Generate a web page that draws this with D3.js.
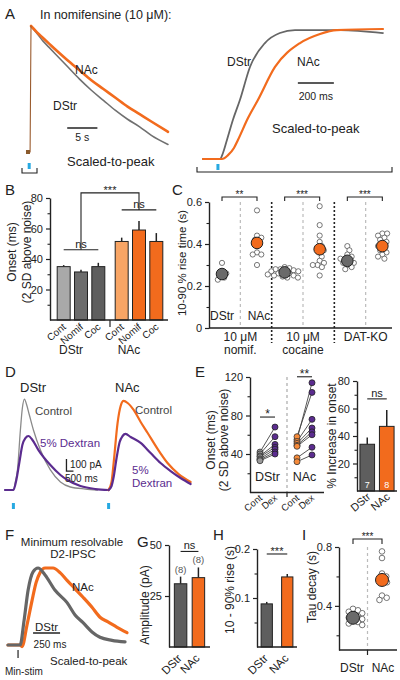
<!DOCTYPE html>
<html><head><meta charset="utf-8">
<script src="https://cdn.jsdelivr.net/npm/d3@7"></script>
<style>
body{margin:0;background:#fff;}
svg text{font-family:"Liberation Sans",Arial,Helvetica,sans-serif;fill:#222;}
</style></head><body>
<script>
// ---------------- DATA ----------------
// A (left): nomifensine, time (s) vs normalized current
const aLeftTime = [-0.6, -0.15, 0, 1, 2, 3, 4, 6, 8, 10, 12, 14, 16, 18, 20, 22.7];
const aLeftDStr = [0, 0, 1, 0.94, 0.88, 0.83, 0.78, 0.68, 0.58, 0.49, 0.41, 0.33, 0.26, 0.20, 0.13, 0.06];
const aLeftNAc  = [0, 0, 1, 0.95, 0.905, 0.86, 0.815, 0.73, 0.65, 0.57, 0.50, 0.43, 0.36, 0.30, 0.24, 0.16];
// A (right): rising phase, time (ms) vs normalized
const aRightTimeDStr = [-83, 11, 28, 50, 83, 122, 178, 261, 344, 428, 678, 917];
const aRightDStr     = [0, 0, 0.046, 0.146, 0.30, 0.454, 0.708, 0.892, 0.969, 0.992, 0.992, 0.969];
const aRightTimeNAc  = [-83, 22, 56, 89, 111, 167, 222, 317, 456, 567, 661, 917];
const aRightNAc      = [0, 0, 0.03, 0.085, 0.146, 0.315, 0.454, 0.708, 0.892, 0.962, 0.992, 1.0];
// B: onset (ms)
const bGroups = ["DStr", "NAc"];
const bConds = ["Cont", "Nomif", "Coc"];
const bDStr = [35, 31.5, 35], bDStrErr = [1, 1.5, 2.5];
const bNAc = [51.5, 59, 51.5], bNAcErr = [2.5, 6, 5.5];
// C: 10-90% rise time (s)
const cGroups = ["nomif", "cocaine", "DATKO"];
const cGroupLabels = [["10 \u03bcM", "nomif."], ["10 \u03bcM", "cocaine"], ["DAT-KO"]];
const cNomifDStr = [0.31, 0.27, 0.26, 0.25, 0.24, 0.23];
const cNomifNAc = [0.56, 0.44, 0.43, 0.42, 0.40, 0.36, 0.35, 0.35, 0.30];
const cCocDStr = [0.29, 0.285, 0.28, 0.28, 0.275, 0.27, 0.27, 0.265, 0.26, 0.26, 0.255, 0.25, 0.25, 0.245, 0.24, 0.24];
const cCocNAc = [0.58, 0.49, 0.44, 0.41, 0.39, 0.38, 0.37, 0.36, 0.34, 0.32, 0.31, 0.30, 0.30, 0.29, 0.25];
const cKoDStr = [0.39, 0.37, 0.35, 0.34, 0.33, 0.33, 0.32, 0.31, 0.31, 0.30, 0.29, 0.28];
const cKoNAc = [0.45, 0.45, 0.44, 0.43, 0.42, 0.41, 0.40, 0.39, 0.38, 0.37, 0.36, 0.35, 0.34, 0.33];
const cMeanDStr = [0.257, 0.265, 0.32];
const cMeanNAc = [0.405, 0.375, 0.39];
const cSig = ["**", "***", "***"];
// D: D2-IPSC (s, pA), control vs 5% dextran
const dSweepOffset = 6.8;
const dDStrCtrl = [[-0.6,0],[0,0],[0.14,67],[0.29,167],[0.5,500],[0.64,683],[0.79,758],[0.93,717],[1.14,625],[1.43,500],[1.93,333],[2.64,167],[3.36,67],[4.07,25],[5.14,8],[6.0,0]];
const dDStrDex  = [[-0.6,0],[0,0],[0.21,83],[0.43,233],[0.64,375],[0.86,433],[1.07,450],[1.36,417],[1.79,333],[2.64,208],[3.36,125],[3.86,83],[4.79,33],[5.86,8],[6.8,0]];
const dNAcCtrl  = [[0,0],[0.21,67],[0.36,225],[0.64,558],[0.86,700],[1.07,742],[1.36,725],[1.79,667],[2.29,567],[2.79,475],[3.5,342],[4.21,225],[5.0,133],[5.86,67]];
const dNAcDex   = [[0,0],[0.21,33],[0.36,108],[0.57,267],[0.79,400],[1.0,450],[1.21,467],[1.57,442],[2.29,392],[3.0,308],[3.71,225],[4.43,158],[5.14,100],[5.86,50]];
// E: onset (ms) paired, and % increase
const eDStrCont = [42, 40, 38, 37, 35, 34, 33];
const eDStrDex  = [68, 58, 50, 47, 45, 42, 40];
const eNAcCont  = [55, 58, 53, 51, 49, 48, 36, 32];
const eNAcDex   = [114, 104, 76, 67, 63, 60, 47, 39];
const eIncCats = ["DStr", "NAc"];
const eInc = [34, 47], eIncErr = [5, 12], eIncN = ["7", "8"];
// F: minimum resolvable D2-IPSC, time (ms) vs normalized
const fDStr = [[-93,0],[0,0],[19,0],[56,0.32],[93,0.71],[139,0.95],[185,1.0],[250,0.91],[343,0.71],[454,0.55],[528,0.39],[602,0.29],[685,0.17],[759,0.10],[870,0.06],[991,0.04]];
const fNAc  = [[-93,0],[19,0],[37,-0.02],[83,0.26],[130,0.58],[167,0.81],[204,0.94],[250,1.0],[324,1.0],[389,0.94],[454,0.84],[528,0.73],[602,0.62],[685,0.49],[759,0.36],[833,0.30],[917,0.23],[1009,0.16]];
// G, H: amplitude (pA), 10-90% rise (s)
const ghCats = ["DStr", "NAc"];
const gAmp = [31, 34], gAmpErr = [3.5, 5], gN = ["(8)", "(8)"];
const hRise = [0.088, 0.143], hRiseErr = [0.004, 0.006];
// I: tau decay (s)
const iDStr = [0.38, 0.37, 0.36, 0.35, 0.34, 0.33, 0.32, 0.31, 0.30, 0.29, 0.28, 0.27];
const iNAc = [0.77, 0.725, 0.62, 0.60, 0.57, 0.56, 0.47, 0.455, 0.44];
const iMean = [0.319, 0.576];

// ---------------- STYLE ----------------
const ORANGE = "#f26b1d", LORANGE = "#f8a565", DGRAY = "#5e5e5e", MGRAY = "#6c6c6c", LGRAY = "#a9a9a9";
const PURPLE = "#5b2c8f", BLUE = "#27a9e1", INK = "#222";

const svg = d3.select("body").append("svg").attr("width", 400).attr("height", 680);
const zip = (a, b) => a.map((d, i) => [d, b[i]]);

function T(x, y, s, o = {}) {
  const t = svg.append("text").attr("x", x).attr("y", y).text(s)
    .attr("font-size", o.size || 12).attr("text-anchor", o.anchor || "start");
  if (o.fill) t.style("fill", o.fill);
  if (o.rot != null) t.attr("transform", `rotate(${o.rot},${x},${y})`);
  return t;
}
function VT(cx, cy, s, size = 12) {
  svg.append("text").attr("transform", `translate(${cx},${cy}) rotate(-90)`)
    .attr("text-anchor", "middle").attr("dy", "0.35em").attr("font-size", size).text(s);
}
function L(x1, y1, x2, y2, o = {}) {
  const l = svg.append("line").attr("x1", x1).attr("y1", y1).attr("x2", x2).attr("y2", y2)
    .attr("stroke", o.color || INK).attr("stroke-width", o.w || 1);
  if (o.dash) l.attr("stroke-dasharray", o.dash);
  return l;
}
function P(d, o = {}) {
  return svg.append("path").attr("d", d).attr("fill", "none").attr("stroke", o.color || INK).attr("stroke-width", o.w || 1);
}
function trace(data, xs, ys, color, w, dx = 0) {
  svg.append("path").datum(data).attr("fill", "none").attr("stroke", color).attr("stroke-width", w)
    .attr("stroke-linejoin", "round").attr("stroke-linecap", "round")
    .attr("d", d3.line().x(d => xs(d[0] + dx)).y(d => ys(d[1])).curve(d3.curveMonotoneX));
}
function yAxis(x, scale, ticks, fmt, minor) {
  const g = svg.append("g").attr("transform", `translate(${x},0)`);
  g.call(d3.axisLeft(scale).tickValues(ticks).tickFormat(fmt).tickSize(4).tickSizeOuter(0).tickPadding(3));
  g.attr("font-family", null).attr("font-size", null);
  g.select(".domain").attr("stroke", INK).attr("stroke-width", 1.4);
  g.selectAll(".tick line").attr("stroke", INK).attr("stroke-width", 1.2);
  g.selectAll(".tick text").attr("font-size", 11);
  if (minor) {
    const m = svg.append("g").attr("transform", `translate(${x},0)`);
    m.call(d3.axisLeft(scale).tickValues(minor).tickFormat("").tickSize(2.5).tickSizeOuter(0));
    m.select(".domain").remove();
    m.selectAll(".tick line").attr("stroke", INK).attr("stroke-width", 1.1);
  }
}
function bracket(x1, x2, y, drop, label, size) {
  P(`M${x1},${y + drop}V${y}H${x2}V${y + drop}`, { w: 1.1 });
  T((x1 + x2) / 2, label === "ns" ? y - 2 : y + 1, label, { anchor: "middle", size: size || 11 });
}
// simple beeswarm layout (points may overlap a little, as in the figure)
function swarm(vals, ys, rc) {
  const placed = [];
  vals.map(v => ({ v, y: ys(v) })).sort((a, b) => a.y - b.y).forEach(p => {
    const cands = [0];
    placed.forEach(q => {
      const dy = Math.abs(q.y - p.y);
      if (dy < 2 * rc) { const h = Math.sqrt(4 * rc * rc - dy * dy) + 0.2; cands.push(q.dx + h, q.dx - h); }
    });
    cands.sort((a, b) => Math.abs(a) - Math.abs(b));
    const ok = cands.find(c => placed.every(q => (q.dx - c) ** 2 + (q.y - p.y) ** 2 >= 4 * rc * rc - 0.01));
    p.dx = ok; placed.push(p);
  });
  return placed;
}
function panelLetter(x, y, s) { T(x, y, s, { size: 15 }); }

// ---------------- PANEL A (left) ----------------
panelLetter(5, 19, "A");
T(40, 19, "In nomifensine (10 \u03bcM):", { size: 12.5 });
const xA1 = d3.scaleLinear().domain([0, 22.7]).range([31, 168]);
const yA1 = d3.scaleLinear().domain([0, 1]).range([152, 26]);
const aL_D = zip(aLeftTime, aLeftDStr), aL_N = zip(aLeftTime, aLeftNAc);
trace(aL_D.slice(2), xA1, yA1, "#707070", 1.6);
trace(aL_N.slice(2), xA1, yA1, ORANGE, 2.6);
trace(aL_N.slice(0, 3), xA1, yA1, "#9a5b2e", 1.1);
svg.append("rect").attr("x", xA1(-0.5) - 2).attr("y", yA1(0) - 2).attr("width", 4).attr("height", 4).attr("fill", "#8a5a2c");
svg.append("rect").attr("x", xA1(-0.3) - 1.5).attr("y", 163).attr("width", 3).attr("height", 6).attr("fill", BLUE);
P("M22,168V173H37V168", { w: 1.1 });
T(75, 74, "NAc", { size: 12 });
T(53, 110, "DStr", { size: 12 });
L(xA1(6), 128, xA1(11), 128, { w: 1.5 });
T(xA1(8.5), 141, "5 s", { anchor: "middle", size: 10.5 });
T(67, 166, "Scaled-to-peak", { size: 13 });

// ---------------- PANEL A (right) ----------------
const xA2 = d3.scaleLinear().domain([-83, 917]).range([203, 383]);
const yA2 = d3.scaleLinear().domain([0, 1]).range([159, 29]);
trace(zip(aRightTimeDStr, aRightDStr), xA2, yA2, "#666", 1.8);
trace(zip(aRightTimeNAc, aRightNAc), xA2, yA2, ORANGE, 2.2);
svg.append("rect").attr("x", xA2(0) - 1.5).attr("y", 164).attr("width", 3).attr("height", 6).attr("fill", BLUE);
P("M197,167V172H392V167", { w: 1.1 });
T(227, 66, "DStr", { size: 12 });
T(297, 66, "NAc", { size: 12 });
L(xA2(444), 83, xA2(644), 83, { w: 1.5 });
T(xA2(544), 100, "200 ms", { anchor: "middle", size: 10.5 });
T(272, 133, "Scaled-to-peak", { size: 13 });

// ---------------- PANEL B ----------------
panelLetter(5, 195, "B");
const yB = d3.scaleLinear().domain([0, 80]).range([320, 198]);
const xBo = d3.scaleBand().domain(bGroups).range([52, 168]);
const xBi = d3.scaleBand().domain(bConds).range([0, xBo.bandwidth()]).paddingInner(0.25).paddingOuter(0.3);
const bColors = { DStr: [LGRAY, MGRAY, DGRAY], NAc: [LORANGE, ORANGE, ORANGE] };
const bVals = { DStr: bDStr, NAc: bNAc }, bErrs = { DStr: bDStrErr, NAc: bNAcErr };
bGroups.forEach(g => {
  bConds.forEach((c, i) => {
    const v = bVals[g][i], e = bErrs[g][i], x = xBo(g) + xBi(c), w = xBi.bandwidth();
    L(x + w / 2, yB(v), x + w / 2, yB(v + e), { w: 1.5 });
    svg.append("rect").attr("x", x).attr("y", yB(v)).attr("width", w).attr("height", yB(0) - yB(v))
      .attr("fill", bColors[g][i]).attr("stroke", INK).attr("stroke-width", 1);
    T(x + w / 2 + 3, 328, c, { anchor: "end", size: 10, rot: -40 });
  });
  T(xBo(g) + xBo.bandwidth() / 2 - 10, 354, g, { anchor: "middle", size: 12 });
});
yAxis(50, yB, [20, 40, 60, 80], d3.format("d"), [10, 30, 50, 70]);
L(50, 320, 168, 320, { w: 1.4 });
L(xBo("NAc"), 320, xBo("NAc"), 327, { w: 1.2 });
VT(12, 252, "Onset (ms)", 12);
VT(27, 252, "(2 SD above noise)", 12);
const bC = (g, c) => xBo(g) + xBi(c) + xBi.bandwidth() / 2;
const bTop = g => yB(d3.max(bVals[g].map((v, i) => v + bErrs[g][i])));
const yNsD = bTop("DStr") - 13, yNsN = bTop("NAc") - 11;
bracket(bC("DStr", "Cont"), bC("DStr", "Coc"), yNsD, 0, "ns");
bracket(bC("NAc", "Cont"), bC("NAc", "Coc"), yNsN, 0, "ns");
const xSigL = bC("DStr", "Nomif"), xSigR = bC("NAc", "Nomif");
P(`M${xSigL},${yNsD}V${yNsN - 17}H${xSigR}V${yNsN}`, { w: 1.1 });
T((xSigL + xSigR) / 2, yNsN - 16, "***", { anchor: "middle", size: 11 });

// ---------------- PANEL C ----------------
panelLetter(172, 195, "C");
const yC = d3.scaleLinear().domain([0, 0.6]).range([328, 202]);
const xCo = d3.scaleBand().domain(cGroups).range([209, 397]);
const xCi = d3.scalePoint().domain(["DStr", "NAc"]).range([13, 48]);
const cPts = [[cNomifDStr, cNomifNAc], [cCocDStr, cCocNAc], [cKoDStr, cKoNAc]];
cGroups.forEach((g, gi) => {
  const mid = xCo(g) + xCo.bandwidth() / 2;
  L(mid, 202, mid, 328, { color: "#bbb", w: 1.2, dash: "3,3" });
  if (gi > 0) L(xCo(g), 202, xCo(g), 343, { color: INK, w: 1.6, dash: "2,2" });
  ["DStr", "NAc"].forEach((k, ki) => {
    const cx = xCo(g) + xCi(k);
    swarm(cPts[gi][ki], yC, 2.3).forEach(p => {
      svg.append("circle").attr("cx", cx + p.dx).attr("cy", p.y).attr("r", 2.6)
        .attr("fill", "#fff").attr("stroke", "#555").attr("stroke-width", 0.8);
    });
    const m = ki === 0 ? cMeanDStr[gi] : cMeanNAc[gi];
    svg.append("circle").attr("cx", cx).attr("cy", yC(m)).attr("r", 5.8)
      .attr("fill", ki === 0 ? "#6a6a6a" : ORANGE).attr("stroke", INK).attr("stroke-width", 1);
  });
  bracket(xCo(g) + xCi("DStr"), xCo(g) + xCi("NAc"), 197, 4, cSig[gi], 10);
  cGroupLabels[gi].forEach((s, li) => T(mid, 341 + li * 13, s, { anchor: "middle", size: 12 }));
});
yAxis(209, yC, [0, 0.2, 0.4, 0.6], d => d === 0 ? "0" : d3.format(".1f")(d), [0.1, 0.3, 0.5]);
L(209, 328, 392, 328, { w: 1.4 });
T(xCo("nomif") + xCi("DStr"), 320, "DStr", { anchor: "middle", size: 12 });
T(xCo("nomif") + xCi("NAc") + 2, 320, "NAc", { anchor: "middle", size: 12 });
VT(182, 263, "10-90 % rise time (s)", 11.5);

// ---------------- PANEL D ----------------
panelLetter(5, 377, "D");
const xD = d3.scaleLinear().domain([-0.6, 13.6]).range([5, 203.8]);
const yD = d3.scaleLinear().domain([0, 800]).range([490, 394]);
trace(dDStrCtrl, xD, yD, "#8a8a8a", 1.3);
trace(dDStrDex, xD, yD, PURPLE, 2.2);
trace(dNAcCtrl, xD, yD, ORANGE, 2.2, dSweepOffset);
trace(dNAcDex, xD, yD, PURPLE, 2.2, dSweepOffset);
[0, dSweepOffset].forEach(t => svg.append("rect").attr("x", xD(t) - 1.5).attr("y", 503).attr("width", 3).attr("height", 6).attr("fill", BLUE));
T(20, 392, "DStr", { size: 13 });
T(115, 392, "NAc", { size: 13 });
T(35, 415, "Control", { size: 11.5, fill: "#444" });
T(40, 447, "5% Dextran", { size: 11.5, fill: PURPLE });
T(135, 414, "Control", { size: 11.5, fill: "#444" });
T(132, 474, "5%", { size: 11.5, fill: PURPLE });
T(132, 487, "Dextran", { size: 11.5, fill: PURPLE });
P(`M${xD(3.79)},${yD(258)}V${yD(158)}H${xD(4.29)}`, { w: 1.3 });
T(70, 468, "100 pA", { size: 10 });
T(65, 482, "500 ms", { size: 10 });

// ---------------- PANEL E (left) ----------------
panelLetter(195, 377, "E");
const yE = d3.scaleLinear().domain([0, 120]).range([492.5, 377]);
const xEo = d3.scaleBand().domain(["DStr", "NAc"]).range([250, 324]);
const xEi = d3.scalePoint().domain(["Cont", "Dex"]).range([10, 25]);
L(xEo("NAc"), 377, xEo("NAc"), 492, { color: "#aaa", w: 1.2, dash: "3,3" });
const ePairs = { DStr: [eDStrCont, eDStrDex], NAc: [eNAcCont, eNAcDex] };
const eContFill = { DStr: "#9a9a9a", NAc: "#f58a3a" };
["DStr", "NAc"].forEach(g => {
  const [cv, dv] = ePairs[g];
  const x1 = xEo(g) + xEi("Cont"), x2 = xEo(g) + xEi("Dex");
  cv.forEach((v, i) => L(x1, yE(v), x2, yE(dv[i]), { color: "#444", w: 0.9 }));
  cv.forEach(v => svg.append("circle").attr("cx", x1).attr("cy", yE(v)).attr("r", 3).attr("fill", eContFill[g]).attr("stroke", "#333").attr("stroke-width", 0.8));
  dv.forEach(v => svg.append("circle").attr("cx", x2).attr("cy", yE(v)).attr("r", 3).attr("fill", PURPLE).attr("stroke", "#222").attr("stroke-width", 0.8));
  ["Cont", "Dex"].forEach(c => T(xEo(g) + xEi(c) + 3, 499, c, { anchor: "end", size: 9.5, rot: -40 }));
  T(xEo(g) + xEo.bandwidth() / 2 - 1, 481, g, { anchor: "middle", size: 12.5 });
});
bracket(xEo("DStr") + xEi("Cont"), xEo("DStr") + xEi("Dex"), yE(d3.max(eDStrDex)) - 10, 0, "*", 12);
bracket(xEo("NAc") + xEi("Cont"), xEo("NAc") + xEi("Dex"), yE(d3.max(eNAcDex)) - 6, 0, "**", 12);
yAxis(250, yE, [40, 80, 120], d3.format("d"), [20, 60, 100]);
L(250, 492.5, 324, 492.5, { w: 1.4 });
L(xEo("NAc"), 492.5, xEo("NAc"), 497, { w: 1.2 });
VT(211, 440, "Onset (ms)", 12);
VT(224, 440, "(2 SD above noise)", 12);

// ---------------- PANEL E (right) ----------------
const yE2 = d3.scaleLinear().domain([0, 80]).range([491, 381]);
const xE2 = d3.scaleBand().domain(eIncCats).range([357, 397]).paddingInner(0.25).paddingOuter(0.15);
eIncCats.forEach((c, i) => {
  const x = xE2(c), w = xE2.bandwidth(), v = eInc[i];
  L(x + w / 2, yE2(v), x + w / 2, yE2(v + eIncErr[i]), { w: 1.5 });
  svg.append("rect").attr("x", x).attr("y", yE2(v)).attr("width", w).attr("height", yE2(0) - yE2(v))
    .attr("fill", i === 0 ? DGRAY : ORANGE).attr("stroke", INK).attr("stroke-width", 1);
  T(x + w / 2, 488, eIncN[i], { anchor: "middle", size: 9, fill: "#fff" });
  T(x + w / 2 + 4, 498, c, { anchor: "end", size: 11, rot: -40 });
});
yAxis(357, yE2, [20, 40, 60, 80], d3.format("d"), [10, 30, 50, 70]);
L(357, 491, 397, 491, { w: 1.4 });
bracket(xE2("DStr") + xE2.bandwidth() / 2, xE2("NAc") + xE2.bandwidth() / 2, yE2(d3.max(eInc.map((v, i) => v + eIncErr[i]))) - 11, 0, "ns");
VT(332, 436, "% Increase in onset", 12);

// ---------------- PANEL F ----------------
panelLetter(5, 540, "F");
T(72, 546, "Minimum resolvable", { anchor: "middle", size: 11.5 });
T(73, 558, "D2-IPSC", { anchor: "middle", size: 11.5 });
const xF = d3.scaleLinear().domain([-93, 1009]).range([8, 127]);
const yF = d3.scaleLinear().domain([0, 1]).range([645, 568]);
trace(fNAc, xF, yF, ORANGE, 3.2);
trace(fDStr, xF, yF, "#666", 3.2);
L(xF(0), 650, xF(0), 658, { w: 1.2 });
T(72, 591, "NAc", { size: 11.5 });
T(35, 631, "DStr", { size: 11.5 });
L(xF(139), 633, xF(389), 633, { w: 1.5 });
T(50, 648, "250 ms", { anchor: "middle", size: 10 });
T(50, 665, "Scaled-to-peak", { size: 11.5 });
T(5, 675, "Min-stim", { size: 10 });

// ---------------- PANEL G ----------------
panelLetter(137, 547, "G");
const yG = d3.scaleLinear().domain([0, 50]).range([647, 545]);
const xG = d3.scaleBand().domain(ghCats).range([169, 210]).paddingInner(0.3).paddingOuter(0.3);
ghCats.forEach((c, i) => {
  const x = xG(c), w = xG.bandwidth(), v = gAmp[i];
  L(x + w / 2, yG(v), x + w / 2, yG(v + gAmpErr[i]), { w: 1.5 });
  svg.append("rect").attr("x", x).attr("y", yG(v)).attr("width", w).attr("height", yG(0) - yG(v))
    .attr("fill", i === 0 ? DGRAY : ORANGE).attr("stroke", INK).attr("stroke-width", 1);
  T(x + w / 2, yG(v + gAmpErr[i]) - 4, gN[i], { anchor: "middle", size: 9.5, fill: "#555" });
  T(x + w / 2 + 2, 659, c, { anchor: "end", size: 11.5, rot: -45 });
});
yAxis(169, yG, [25, 50], d3.format("d"));
L(169, 647, 210, 647, { w: 1.4 });
bracket(xG("DStr") + xG.bandwidth() / 2, xG("NAc") + xG.bandwidth() / 2, yG(d3.max(gAmp.map((v, i) => v + gAmpErr[i]))) - 16, 0, "ns");
VT(145, 605, "Amplitude (pA)", 12);

// ---------------- PANEL H ----------------
panelLetter(213, 540, "H");
const yH = d3.scaleLinear().domain([0, 0.2]).range([647, 549]);
const xH = d3.scaleBand().domain(ghCats).range([257, 297]).paddingInner(0.45).paddingOuter(0.2);
ghCats.forEach((c, i) => {
  const x = xH(c), w = xH.bandwidth(), v = hRise[i];
  L(x + w / 2, yH(v), x + w / 2, yH(v + hRiseErr[i]), { w: 1.5 });
  svg.append("rect").attr("x", x).attr("y", yH(v)).attr("width", w).attr("height", yH(0) - yH(v))
    .attr("fill", i === 0 ? DGRAY : ORANGE).attr("stroke", INK).attr("stroke-width", 1);
  T(x + w / 2 + 2, 659, c, { anchor: "end", size: 11.5, rot: -45 });
});
yAxis(257, yH, [0.1, 0.2], d3.format(".1f"), [0.05, 0.15]);
L(257, 647, 297, 647, { w: 1.4 });
bracket(xH("DStr") + xH.bandwidth() / 2, xH("NAc") + xH.bandwidth() / 2, yH(d3.max(hRise.map((v, i) => v + hRiseErr[i]))) - 20, 0, "***");
VT(230, 590, "10 - 90% rise (s)", 12);

// ---------------- PANEL I ----------------
panelLetter(302, 540, "I");
const yI = d3.scaleLinear().domain([0.1, 0.8]).range([650, 547]);
const xI = d3.scalePoint().domain(["DStr", "NAc"]).range([353, 382]);
const iMid = (xI("DStr") + xI("NAc")) / 2;
L(iMid, 547, iMid, 650, { color: "#bbb", w: 1.2, dash: "3,3" });
[iDStr, iNAc].forEach((arr, k) => {
  const cx = xI(k === 0 ? "DStr" : "NAc");
  swarm(arr, yI, 2.5).forEach(p => svg.append("circle").attr("cx", cx + p.dx).attr("cy", p.y).attr("r", 2.8)
    .attr("fill", "#fff").attr("stroke", "#555").attr("stroke-width", 0.8));
  svg.append("circle").attr("cx", cx).attr("cy", yI(iMean[k])).attr("r", 6.5)
    .attr("fill", k === 0 ? "#6a6a6a" : ORANGE).attr("stroke", INK).attr("stroke-width", 1);
});
yAxis(339, yI, [0.4, 0.8], d3.format(".1f"), [0.2, 0.6]);
L(339, 650, 397, 650, { w: 1.4 });
L(iMid, 650, iMid, 655, { w: 1.2 });
T(xI("DStr") - 1, 672, "DStr", { anchor: "middle", size: 12 });
T(xI("NAc") + 1, 672, "NAc", { anchor: "middle", size: 12 });
bracket(xI("DStr"), xI("NAc"), 539, 5, "***", 10);
VT(312, 587, "Tau decay (s)", 12);
</script></body></html>
